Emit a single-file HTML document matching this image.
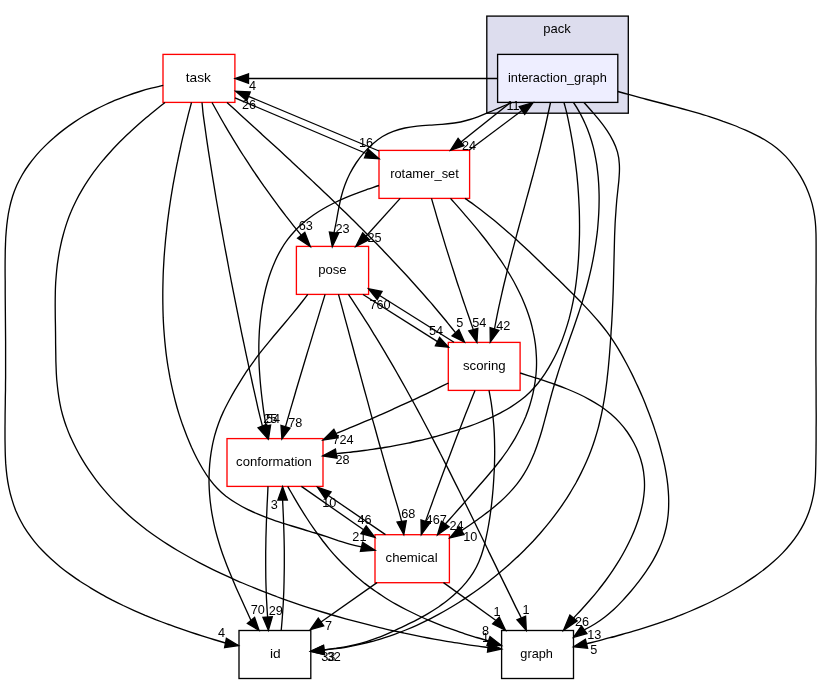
<!DOCTYPE html>
<html lang="en"><head><meta charset="utf-8"><title>pack/interaction_graph</title>
<style>
html,body{margin:0;padding:0;background:#fff;}
svg{display:block;will-change:transform;}
text{font-family:"Liberation Sans","DejaVu Sans",sans-serif;font-size:12.7px;fill:#000;text-anchor:middle;}
.e{fill:none;stroke:#000;stroke-width:1.33;}
.a{fill:#000;stroke:#000;stroke-width:1.33;}
</style></head><body>
<svg width="822" height="684" viewBox="0 0 822 684">
<rect x="0" y="0" width="822" height="684" fill="#ffffff"/>
<g id="cluster_pack"><rect x="486.8" y="16.1" width="141.5" height="97.1" fill="#ddddee" stroke="#000" stroke-width="1.33"/>
<text x="557" y="32.6" textLength="27.5" lengthAdjust="spacingAndGlyphs">pack</text></g>
<g class="node"><rect x="497.6" y="54.4" width="120.2" height="48" fill="#eeeeff" stroke="#000000" stroke-width="1.33"/><text x="557.4" y="82.3" textLength="98.8" lengthAdjust="spacingAndGlyphs">interaction_graph</text></g>
<g class="node"><rect x="163" y="54.4" width="71.9" height="48" fill="#ffffff" stroke="#ff0000" stroke-width="1.33"/><text x="198.4" y="82" textLength="25.2" lengthAdjust="spacingAndGlyphs">task</text></g>
<g class="node"><rect x="379" y="150.4" width="90.6" height="48" fill="#ffffff" stroke="#ff0000" stroke-width="1.33"/><text x="424.5" y="177.9" textLength="68.6" lengthAdjust="spacingAndGlyphs">rotamer_set</text></g>
<g class="node"><rect x="296.4" y="246.4" width="72.2" height="48" fill="#ffffff" stroke="#ff0000" stroke-width="1.33"/><text x="332.4" y="274" textLength="28.5" lengthAdjust="spacingAndGlyphs">pose</text></g>
<g class="node"><rect x="448.3" y="342.4" width="71.8" height="48" fill="#ffffff" stroke="#ff0000" stroke-width="1.33"/><text x="484.3" y="370.1" textLength="42.6" lengthAdjust="spacingAndGlyphs">scoring</text></g>
<g class="node"><rect x="227" y="438.6" width="96" height="47.8" fill="#ffffff" stroke="#ff0000" stroke-width="1.33"/><text x="274" y="465.5" textLength="75.8" lengthAdjust="spacingAndGlyphs">conformation</text></g>
<g class="node"><rect x="375" y="534.7" width="74.4" height="48" fill="#ffffff" stroke="#ff0000" stroke-width="1.33"/><text x="411.6" y="562" textLength="52.1" lengthAdjust="spacingAndGlyphs">chemical</text></g>
<g class="node"><rect x="239" y="630.5" width="71.8" height="48" fill="#ffffff" stroke="#000000" stroke-width="1.33"/><text x="275.4" y="657.9" textLength="10.7" lengthAdjust="spacingAndGlyphs">id</text></g>
<g class="node"><rect x="501.6" y="630.5" width="71.9" height="48" fill="#ffffff" stroke="#000000" stroke-width="1.33"/><text x="536.6" y="657.9" textLength="32.6" lengthAdjust="spacingAndGlyphs">graph</text></g>
<g class="edge"><path class="e" d="M163.2,85.3 C159.2,86.2 155.3,87.2 151.4,88.2 C147.4,89.2 143.5,90.3 139.7,91.5 C135.8,92.7 132,93.9 128.2,95.3 C124.4,96.7 120.6,98.1 116.8,99.6 C113.1,101.1 109.4,102.8 105.7,104.5 C102.1,106.2 98.4,108 94.8,109.9 C91.3,111.8 87.7,113.7 84.2,115.8 C80.7,117.9 77.3,120.1 73.9,122.4 C70.5,124.7 67.1,127.1 63.8,129.6 C60.5,132.1 57.3,134.7 54.2,137.5 C51,140.2 48,143 45.1,145.9 C42.1,148.8 39.3,151.8 36.6,154.9 C34,158 31.4,161.2 29,164.5 C26.6,167.7 24.4,171.1 22.4,174.5 C20.4,178 18.5,181.5 16.9,185.1 C15.3,188.8 13.8,192.5 12.6,196.2 C11.4,200 10.4,203.8 9.6,207.7 C8.7,211.6 8,215.6 7.5,219.6 C6.9,223.5 6.5,227.6 6.2,231.6 C5.8,235.7 5.6,239.8 5.5,243.9 C5.3,248 5.2,252.1 5.2,256.2 C5.1,260.3 5.1,264.5 5.1,268.6 C5.1,272.7 5.1,276.8 5.2,280.8 C5.2,284.9 5.2,289 5.2,293.1 C5.2,297.1 5.3,301.2 5.3,305.3 C5.3,309.3 5.4,313.4 5.4,317.4 C5.4,321.4 5.5,325.5 5.5,329.5 C5.5,333.6 5.6,337.6 5.6,341.6 C5.6,345.7 5.6,349.7 5.6,353.7 C5.6,357.8 5.6,361.8 5.6,365.8 C5.6,369.9 5.6,373.9 5.6,378 C5.5,382 5.5,386 5.5,390.1 C5.4,394.1 5.3,398.2 5.3,402.3 C5.2,406.3 5.2,410.4 5.1,414.5 C5.1,418.5 5.1,422.6 5,426.7 C5,430.8 5,434.8 5,438.9 C5.1,443 5.1,447.1 5.2,451.2 C5.3,455.3 5.5,459.4 5.7,463.4 C6,467.5 6.4,471.6 6.9,475.6 C7.4,479.7 8.1,483.7 8.9,487.6 C9.7,491.6 10.7,495.5 11.9,499.4 C13,503.2 14.3,507 15.8,510.7 C17.4,514.4 19.1,518 21,521.5 C22.8,525 24.9,528.4 27.1,531.7 C29.3,534.9 31.7,538.1 34.3,541.3 C36.8,544.4 39.4,547.4 42.2,550.3 C45,553.2 47.9,556.1 50.9,558.8 C54,561.6 57.1,564.3 60.3,566.9 C63.5,569.5 66.8,572 70.1,574.4 C73.5,576.8 76.9,579.2 80.3,581.5 C83.8,583.7 87.3,585.9 90.9,588.1 C94.4,590.2 98,592.3 101.6,594.3 C105.1,596.3 108.7,598.2 112.3,600.1 C115.9,601.9 119.6,603.7 123.2,605.5 C126.8,607.2 130.5,608.9 134.2,610.6 C137.8,612.2 141.5,613.8 145.2,615.4 C148.9,616.9 152.6,618.4 156.3,619.9 C160.1,621.3 163.8,622.7 167.6,624.1 C171.4,625.5 175.1,626.9 178.9,628.2 C182.7,629.5 186.6,630.8 190.4,632.1 C194.3,633.4 198.1,634.6 202,635.9 C205.9,637.1 209.8,638.3 213.7,639.5 C217.7,640.7 221.5,641.8 225.5,643"/><polygon class="a" points="224.6,647.6 238.5,645.5 226.4,638.4"/><text x="221.5" y="637.1">4</text></g>
<g class="edge"><path class="e" d="M165,102.5 C161.9,104.9 158.7,107.4 155.6,109.9 C152.5,112.4 149.4,114.9 146.4,117.5 C143.3,120.1 140.2,122.8 137.2,125.5 C134.2,128.2 131.2,130.9 128.2,133.7 C125.2,136.5 122.3,139.4 119.4,142.3 C116.6,145.2 113.8,148.1 111,151.2 C108.2,154.2 105.6,157.3 102.9,160.4 C100.3,163.5 97.8,166.7 95.4,169.9 C92.9,173.2 90.6,176.5 88.3,179.8 C86,183.2 83.9,186.6 81.9,190.1 C79.8,193.6 77.9,197.1 76.1,200.7 C74.3,204.3 72.6,207.9 71.1,211.6 C69.5,215.3 68.1,219.1 66.8,222.9 C65.5,226.7 64.4,230.6 63.3,234.5 C62.2,238.3 61.3,242.3 60.5,246.2 C59.6,250.2 58.9,254.1 58.3,258.1 C57.6,262.1 57.1,266.1 56.7,270.2 C56.3,274.2 56,278.2 55.7,282.3 C55.5,286.3 55.3,290.3 55.3,294.3 C55.2,298.4 55.2,302.4 55.2,306.5 C55.2,310.5 55.3,314.5 55.3,318.6 C55.4,322.6 55.5,326.7 55.5,330.7 C55.6,334.8 55.6,338.8 55.6,342.9 C55.7,346.9 55.7,351 55.8,355.1 C55.8,359.1 55.9,363.2 56.1,367.2 C56.2,371.3 56.4,375.3 56.7,379.3 C57.1,383.4 57.5,387.4 58,391.4 C58.5,395.4 59.1,399.3 59.9,403.3 C60.6,407.2 61.5,411.1 62.6,415 C63.7,418.8 64.9,422.7 66.3,426.4 C67.6,430.2 69.1,433.9 70.8,437.6 C72.4,441.3 74.2,444.9 76.1,448.5 C77.9,452.1 79.9,455.6 82,459.1 C84.1,462.6 86.2,466 88.5,469.4 C90.8,472.7 93.2,476.1 95.6,479.3 C98.1,482.6 100.6,485.8 103.2,488.9 C105.8,492 108.5,495.1 111.3,498.1 C114.1,501.1 116.9,504 119.8,506.8 C122.7,509.7 125.7,512.5 128.7,515.2 C131.7,517.9 134.8,520.5 137.9,523 C141,525.6 144.2,528 147.4,530.5 C150.7,532.9 153.9,535.2 157.3,537.5 C160.6,539.8 163.9,542 167.3,544.1 C170.7,546.3 174.1,548.4 177.6,550.5 C181.1,552.5 184.6,554.5 188.1,556.5 C191.6,558.5 195.1,560.4 198.7,562.3 C202.3,564.1 205.9,566 209.5,567.8 C213.1,569.6 216.7,571.3 220.4,573.1 C224,574.8 227.7,576.5 231.4,578.2 C235.1,579.8 238.8,581.5 242.5,583 C246.2,584.6 249.9,586.2 253.7,587.7 C257.4,589.3 261.2,590.8 264.9,592.2 C268.7,593.7 272.5,595.1 276.3,596.5 C280.1,597.9 283.9,599.3 287.7,600.7 C291.5,602 295.4,603.3 299.2,604.6 C303,605.9 306.9,607.2 310.7,608.4 C314.6,609.6 318.5,610.8 322.3,612 C326.2,613.2 330.1,614.3 334,615.5 C337.9,616.6 341.8,617.7 345.7,618.8 C349.6,619.8 353.5,620.9 357.4,621.9 C361.3,623 365.2,624 369.1,624.9 C373,625.9 376.9,626.9 380.8,627.8 C384.8,628.8 388.7,629.7 392.6,630.6 C396.6,631.5 400.5,632.3 404.4,633.2 C408.4,634 412.3,634.8 416.3,635.6 C420.2,636.4 424.2,637.2 428.1,638 C432.1,638.7 436.1,639.5 440.1,640.2 C444,640.9 448,641.6 452,642.2 C456,642.9 460,643.5 464,644.1 C468,644.8 472,645.4 476,645.9 C480,646.5 484,647 488,647.5"/><polygon class="a" points="487.5,652.1 501.5,649 488.5,642.9"/><text x="485.5" y="642.2">1</text></g>
<g class="edge"><path class="e" d="M191.5,102.5 C190.5,106.4 189.4,110.3 188.4,114.2 C187.4,118.1 186.5,122 185.5,125.9 C184.6,129.8 183.6,133.8 182.7,137.7 C181.8,141.6 180.9,145.6 180.1,149.5 C179.2,153.4 178.4,157.4 177.6,161.4 C176.7,165.3 176,169.3 175.2,173.3 C174.5,177.2 173.7,181.2 173,185.2 C172.3,189.2 171.7,193.2 171,197.2 C170.4,201.2 169.8,205.2 169.2,209.2 C168.7,213.2 168.1,217.2 167.6,221.2 C167.1,225.2 166.7,229.2 166.3,233.2 C165.8,237.2 165.4,241.3 165.1,245.3 C164.7,249.3 164.4,253.3 164.1,257.4 C163.9,261.4 163.6,265.4 163.4,269.5 C163.2,273.5 163.1,277.5 163,281.6 C162.9,285.6 162.8,289.7 162.8,293.7 C162.8,297.7 162.8,301.8 162.9,305.8 C162.9,309.8 163.1,313.9 163.2,317.9 C163.4,321.9 163.6,326 163.9,330 C164.2,334 164.5,338 164.9,342.1 C165.3,346.1 165.7,350.1 166.2,354.1 C166.7,358.1 167.3,362 167.9,366 C168.6,370 169.3,374 170,377.9 C170.8,381.9 171.6,385.8 172.5,389.7 C173.4,393.7 174.4,397.6 175.4,401.5 C176.4,405.3 177.5,409.2 178.7,413.1 C179.9,416.9 181.2,420.8 182.5,424.6 C183.9,428.4 185.3,432.2 186.8,436 C188.3,439.7 189.9,443.5 191.5,447.2 C193.2,450.9 195,454.7 196.8,458.3 C198.7,462 200.7,465.5 202.8,469 C204.9,472.5 207.1,475.9 209.5,479.1 C211.9,482.3 214.4,485.4 217.2,488.3 C219.9,491.2 222.9,493.8 226,496.3 C229.2,498.7 232.5,501 236,503 C239.4,505.1 242.9,507.1 246.5,508.9 C250.1,510.7 253.8,512.3 257.5,513.9 C261.2,515.5 265,517 268.8,518.3 C272.6,519.7 276.4,521.1 280.3,522.3 C284.1,523.6 288,524.8 291.9,526 C295.8,527.2 299.7,528.3 303.6,529.5 C307.5,530.7 311.4,531.8 315.2,533 C319.1,534.2 322.9,535.4 326.7,536.7 C330.5,538 334.3,539.3 338.1,540.6 C341.9,541.8 345.7,543.1 349.6,544.2 C353.5,545.3 357.5,546.2 361.5,546.9"/><polygon class="a" points="360.4,551.4 375,550.3 362.6,542.4"/><text x="359.4" y="540.5">21</text></g>
<g class="edge"><path class="e" d="M202,102.5 C202.5,106.5 202.7,110.6 203.2,114.6 C203.8,118.7 204.3,122.7 204.9,126.7 C205.5,130.7 206,134.8 206.6,138.8 C207.2,142.8 207.8,146.8 208.4,150.8 C209,154.8 209.7,158.9 210.3,162.9 C210.9,166.9 211.6,170.9 212.2,174.9 C212.9,178.9 213.5,182.9 214.2,186.9 C214.9,191 215.5,195 216.2,199 C216.9,203 217.6,207 218.3,211 C219,215 219.7,219 220.4,223 C221.2,227 221.9,231 222.6,235 C223.3,239 224.1,243 224.8,247 C225.6,251 226.3,255 227.1,259 C227.8,263 228.6,267 229.3,271 C230.1,275 230.9,279 231.6,283 C232.4,286.9 233.2,290.9 234,294.9 C234.8,298.9 235.6,302.9 236.4,306.9 C237.2,310.9 238,314.9 238.8,318.8 C239.6,322.8 240.4,326.8 241.2,330.8 C242,334.8 242.9,338.8 243.7,342.7 C244.5,346.7 245.4,350.7 246.2,354.7 C247.1,358.6 247.9,362.6 248.8,366.6 C249.6,370.6 250.5,374.5 251.4,378.5 C252.2,382.5 253.1,386.4 254,390.4 C254.9,394.4 255.8,398.3 256.7,402.3 C257.5,406.3 258.4,410.2 259.4,414.2 C260.3,418.1 261.5,422 262.4,426"/><polygon class="a" points="258.1,427.8 267.7,438.6 266.7,424.2"/><text x="270.3" y="423.4">25</text></g>
<g class="edge"><path class="e" d="M212,102.5 C214,106.1 216,109.7 218,113.3 C220,116.9 222,120.5 224.1,124 C226.2,127.6 228.2,131.1 230.4,134.6 C232.5,138.1 234.6,141.6 236.8,145.1 C238.9,148.6 241.1,152.1 243.3,155.5 C245.6,159 247.8,162.4 250.1,165.8 C252.3,169.3 254.6,172.7 256.9,176 C259.2,179.4 261.6,182.8 263.9,186.2 C266.3,189.5 268.7,192.8 271.1,196.2 C273.5,199.5 275.9,202.8 278.4,206.1 C280.9,209.4 283.3,212.6 285.8,215.9 C288.4,219.1 290.9,222.4 293.4,225.6 C296,228.8 298.6,232 301.2,235.2"/><polygon class="a" points="297.6,238.1 310.3,246.5 304.8,232.3"/><text x="305.8" y="229.9">63</text></g>
<g class="edge"><path class="e" d="M227,102.5 C230,105.2 232.9,107.9 235.9,110.6 C238.9,113.3 241.8,116 244.8,118.7 C247.7,121.4 250.7,124.1 253.6,126.8 C256.6,129.5 259.6,132.2 262.5,134.9 C265.5,137.6 268.4,140.3 271.4,143 C274.4,145.7 277.3,148.4 280.3,151.1 C283.2,153.8 286.2,156.6 289.1,159.3 C292,162 295,164.7 297.9,167.5 C300.9,170.2 303.8,172.9 306.7,175.7 C309.7,178.4 312.6,181.2 315.5,183.9 C318.4,186.7 321.3,189.4 324.2,192.2 C327.1,195 330,197.7 332.9,200.5 C335.8,203.3 338.7,206.1 341.6,208.9 C344.5,211.7 347.3,214.5 350.2,217.3 C353,220.1 355.9,222.9 358.7,225.8 C361.6,228.6 364.4,231.4 367.2,234.3 C370.1,237.1 372.9,240 375.7,242.8 C378.5,245.7 381.3,248.6 384,251.5 C386.8,254.4 389.6,257.3 392.3,260.2 C395.1,263.1 397.8,266 400.5,269 C403.3,271.9 406,274.8 408.7,277.8 C411.4,280.8 414.1,283.7 416.7,286.7 C419.4,289.7 422.1,292.7 424.7,295.7 C427.3,298.8 430,301.8 432.6,304.8 C435.2,307.9 437.8,310.9 440.3,314 C442.9,317.1 445.5,320.2 448,323.3 C450.5,326.4 453,329.6 455.5,332.7"/><polygon class="a" points="452.1,335.9 464.5,342 458.9,329.5"/><text x="459.7" y="327.4">5</text></g>
<g class="edge"><path class="e" d="M235,97.8 L366.3,153.5"/><polygon class="a" points="364.5,157.8 379,158.7 368.1,149.2"/><text x="366" y="146.6">16</text></g>
<g class="edge"><path class="e" d="M379,151 L248.5,96.3"/><polygon class="a" points="250.2,92 235.7,91.3 246.8,100.6"/><text x="249" y="109.1">26</text></g>
<g class="edge"><path class="e" d="M497.8,78.5 L248.5,78.5"/><polygon class="a" points="248.5,73.8 235.2,78.5 248.5,83.2"/><text x="252.5" y="89.7">4</text></g>
<g class="edge"><path class="e" d="M510.5,102.5 L461,142"/><polygon class="a" points="458.1,138.3 450.5,150.2 463.9,145.7"/><text x="469" y="149.6">24</text></g>
<g class="edge"><path class="e" d="M469,150.2 L522,110.5"/><polygon class="a" points="524.7,114.3 533,102.6 519.3,106.7"/><text x="513" y="110.1">11</text></g>
<g class="edge"><path class="e" d="M512,102.6 C508.1,104.1 504.3,105.6 500.5,107.3 C496.7,108.9 493,110.6 489.2,112.2 C485.5,113.8 481.7,115.4 477.9,116.8 C474.1,118.2 470.2,119.5 466.3,120.5 C462.4,121.6 458.4,122.4 454.4,123 C450.3,123.6 446.2,124.1 442,124.4 C437.8,124.7 433.7,125 429.5,125.2 C425.3,125.5 421.2,125.8 417.1,126.2 C412.9,126.7 408.9,127.2 404.9,128 C401,128.8 397.1,129.9 393.3,131.3 C389.6,132.6 386,134.4 382.5,136.5 C379,138.7 375.7,141.2 372.6,143.9 C369.5,146.7 366.5,149.7 363.8,152.9 C361,156.1 358.5,159.5 356.1,163 C353.8,166.5 351.7,170.1 349.8,173.7 C347.9,177.4 346.3,181.1 344.9,184.9 C343.5,188.6 342.3,192.5 341.3,196.5 C340.3,200.4 339.5,204.4 338.7,208.4 C337.9,212.4 337.2,216.5 336.5,220.5 C335.7,224.6 334.9,228.7 334,232.7"/><polygon class="a" points="329.4,232.1 332.3,246.6 338.6,233.3"/><text x="342.5" y="233.1">23</text></g>
<g class="edge"><path class="e" d="M550.5,102.5 C549.7,106.5 548.8,110.5 547.9,114.5 C547.1,118.5 546.2,122.5 545.3,126.5 C544.3,130.5 543.4,134.5 542.4,138.5 C541.4,142.4 540.5,146.4 539.5,150.4 C538.5,154.4 537.4,158.3 536.4,162.3 C535.4,166.2 534.3,170.2 533.3,174.2 C532.2,178.1 531.1,182.1 530.1,186 C529,190 527.9,193.9 526.8,197.9 C525.7,201.8 524.7,205.8 523.6,209.7 C522.5,213.7 521.4,217.6 520.3,221.6 C519.2,225.5 518.2,229.5 517.1,233.4 C516,237.4 515,241.3 513.9,245.3 C512.9,249.2 511.8,253.2 510.8,257.1 C509.7,261.1 508.7,265.1 507.7,269 C506.7,273 505.8,277 504.8,281 C503.8,284.9 502.9,288.9 502,292.9 C501.1,296.9 500.2,300.9 499.3,304.9 C498.4,308.9 497.6,312.9 496.8,316.9 C496,320.9 495.2,325 494.5,329"/><polygon class="a" points="490.1,327.6 490.3,342 498.9,330.4"/><text x="503.3" y="330.1">42</text></g>
<g class="edge"><path class="e" d="M564,102.5 C565,106.4 566.2,110.3 567,114.2 C567.9,118.2 568.7,122.1 569.5,126.1 C570.3,130 571,134 571.7,137.9 C572.4,141.9 573.1,145.9 573.7,149.9 C574.3,153.9 574.8,157.9 575.3,161.9 C575.9,165.9 576.3,169.9 576.8,173.9 C577.2,177.9 577.5,181.9 577.9,185.9 C578.2,189.9 578.5,194 578.7,198 C578.9,202 579.1,206.1 579.3,210.1 C579.4,214.1 579.5,218.2 579.5,222.2 C579.6,226.3 579.5,230.3 579.5,234.3 C579.4,238.4 579.3,242.4 579.1,246.5 C579,250.5 578.7,254.6 578.5,258.6 C578.2,262.6 577.9,266.7 577.5,270.7 C577.1,274.8 576.6,278.8 576.1,282.8 C575.6,286.8 575,290.8 574.3,294.8 C573.6,298.8 572.9,302.7 572,306.7 C571.2,310.6 570.2,314.5 569.2,318.4 C568.1,322.3 567,326.1 565.7,329.9 C564.5,333.7 563.1,337.5 561.7,341.3 C560.2,345 558.6,348.7 556.9,352.3 C555.2,356 553.3,359.6 551.3,363.1 C549.4,366.7 547.2,370.2 545,373.6 C542.7,377 540.3,380.3 537.8,383.5 C535.2,386.6 532.5,389.6 529.6,392.4 C526.7,395.3 523.7,397.9 520.5,400.3 C517.3,402.7 514,405 510.6,407.1 C507.2,409.3 503.6,411.2 500.1,413.1 C496.5,415 492.8,416.7 489.1,418.4 C485.4,420 481.7,421.5 477.9,423 C474.1,424.5 470.3,425.8 466.5,427.2 C462.6,428.5 458.8,429.7 454.9,430.9 C451,432.1 447.1,433.3 443.3,434.4 C439.4,435.5 435.5,436.6 431.6,437.6 C427.7,438.6 423.8,439.6 419.8,440.5 C415.9,441.4 412,442.3 408,443.1 C404.1,443.9 400.1,444.7 396.2,445.4 C392.2,446.2 388.3,446.9 384.3,447.5 C380.3,448.2 376.3,448.8 372.3,449.4 C368.3,450 364.3,450.5 360.3,451 C356.3,451.5 352.3,452 348.3,452.4 C344.3,452.8 340.2,453.2 336.2,453.6"/><polygon class="a" points="335.4,449 322.7,455.9 337,458.2"/><text x="342.5" y="464.3">28</text></g>
<g class="edge"><path class="e" d="M573.5,102.5 C575.9,106 578,109.5 580,113.1 C581.9,116.7 583.7,120.3 585.3,124 C587,127.7 588.4,131.5 589.7,135.3 C591,139.1 592.2,143 593.2,146.9 C594.2,150.7 595,154.7 595.7,158.6 C596.5,162.6 597.1,166.6 597.5,170.6 C598,174.6 598.4,178.6 598.6,182.6 C598.9,186.7 599,190.7 599.1,194.8 C599.2,198.8 599.1,202.9 599,206.9 C598.9,211 598.7,215 598.4,219 C598.1,223.1 597.8,227.1 597.4,231.2 C596.9,235.2 596.4,239.2 595.8,243.2 C595.2,247.3 594.6,251.3 593.8,255.3 C593.1,259.3 592.3,263.2 591.5,267.2 C590.6,271.2 589.7,275.1 588.7,279 C587.7,283 586.7,286.9 585.6,290.8 C584.5,294.6 583.3,298.5 582.1,302.4 C580.9,306.2 579.7,310 578.4,313.8 C577.1,317.7 575.8,321.5 574.5,325.3 C573.2,329.1 571.9,332.8 570.5,336.6 C569.2,340.4 567.8,344.2 566.5,348 C565.2,351.8 563.8,355.6 562.5,359.4 C561.2,363.2 559.9,367.1 558.6,370.9 C557.4,374.8 556.2,378.6 555,382.5 C553.8,386.4 552.7,390.3 551.6,394.2 C550.5,398.1 549.5,402.1 548.4,406 C547.4,410 546.4,414 545.3,417.9 C544.3,421.8 543.2,425.8 542.1,429.7 C541,433.6 539.8,437.4 538.5,441.3 C537.3,445.1 535.9,448.9 534.5,452.6 C533,456.3 531.4,459.9 529.7,463.5 C528,467 526.1,470.5 524,473.9 C522,477.3 519.7,480.6 517.3,483.7 C514.8,486.9 512.1,490 509.3,492.9 C506.5,495.9 503.6,498.7 500.5,501.5 C497.4,504.2 494.3,506.9 491,509.5 C487.8,512 484.5,514.5 481.2,517 C477.9,519.4 474.6,521.7 471.3,524 C468,526.3 464.7,528.5 461.5,530.6"/><polygon class="a" points="459,526.6 449.7,538 464,534.6"/><text x="470.3" y="540.6">10</text></g>
<g class="edge"><path class="e" d="M584,102.5 C586.5,105.3 589.1,108.2 591.8,111.3 C594.4,114.3 597.1,117.4 599.7,120.6 C602.3,123.8 604.8,127.2 607.1,130.6 C609.4,134 611.4,137.5 613.2,141.1 C615,144.7 616.5,148.4 617.5,152.2 C618.5,155.9 619.1,159.8 619.3,163.7 C619.6,167.6 619.5,171.6 619.2,175.6 C619,179.6 618.6,183.6 618.1,187.7 C617.7,191.7 617.2,195.7 616.8,199.7 C616.5,203.7 616.1,207.7 615.9,211.7 C615.6,215.7 615.3,219.7 615.1,223.7 C614.9,227.7 614.8,231.8 614.6,235.8 C614.5,239.8 614.4,243.8 614.3,247.9 C614.2,251.9 614.1,255.9 614,259.9 C613.9,264 613.8,268 613.7,272 C613.6,276 613.5,280.1 613.4,284.1 C613.3,288.1 613.2,292.1 613,296.1 C612.9,300 612.7,304 612.5,308 C612.3,312 612.1,315.9 611.9,319.9 C611.7,323.9 611.4,327.9 611.1,331.8 C610.9,335.8 610.6,339.8 610.3,343.8 C610,347.8 609.7,351.8 609.4,355.9 C609,359.9 608.7,363.9 608.3,368 C607.9,372 607.4,376 607,380.1 C606.5,384.1 606,388.1 605.4,392.1 C604.8,396.2 604.2,400.2 603.4,404.1 C602.7,408.1 602,412.1 601.1,416 C600.2,419.9 599.3,423.8 598.3,427.7 C597.3,431.6 596.1,435.4 594.9,439.2 C593.7,443 592.4,446.8 591,450.5 C589.6,454.3 588.1,457.9 586.5,461.6 C584.9,465.2 583.2,468.8 581.4,472.4 C579.7,476 577.8,479.5 575.9,483 C573.9,486.4 571.9,489.9 569.8,493.3 C567.8,496.7 565.6,500 563.3,503.3 C561.1,506.7 558.8,509.9 556.4,513.2 C554,516.4 551.6,519.6 549.1,522.7 C546.6,525.8 544,528.9 541.3,532 C538.7,535 536,538 533.3,541 C530.5,543.9 527.7,546.8 524.8,549.7 C522,552.5 519.1,555.4 516.1,558.1 C513.2,560.9 510.2,563.6 507.1,566.3 C504.1,568.9 501,571.6 497.9,574.1 C494.8,576.7 491.6,579.2 488.4,581.7 C485.2,584.2 482,586.6 478.7,589 C475.5,591.3 472.2,593.6 468.8,595.9 C465.5,598.2 462.2,600.4 458.8,602.5 C455.4,604.7 452,606.7 448.5,608.8 C445.1,610.8 441.6,612.8 438.1,614.7 C434.6,616.6 431,618.4 427.5,620.2 C423.9,622 420.3,623.7 416.7,625.3 C413,627 409.4,628.5 405.7,630 C402,631.5 398.2,633 394.5,634.3 C390.7,635.7 387,636.9 383.2,638.1 C379.3,639.3 375.5,640.5 371.6,641.5 C367.8,642.6 363.9,643.5 359.9,644.4 C356,645.3 352.1,646.1 348.1,646.8 C344.1,647.5 340.1,648.2 336.1,648.7 C332,649.2 328.1,649.6 324,650"/><polygon class="a" points="323.5,645.4 310.7,651.3 324.5,654.6"/><text x="333.8" y="661.1">32</text></g>
<g class="edge"><path class="e" d="M617.8,91.5 C621.6,92.6 625.5,93.7 629.4,94.7 C633.2,95.8 637.1,96.9 641,97.9 C644.9,98.9 648.8,100 652.8,101 C656.7,102 660.6,103 664.6,104 C668.5,105.1 672.4,106.1 676.4,107.1 C680.3,108.2 684.3,109.3 688.2,110.4 C692.1,111.5 696,112.6 699.9,113.7 C703.8,114.9 707.7,116.1 711.6,117.4 C715.4,118.6 719.3,119.9 723.1,121.3 C726.9,122.6 730.7,124 734.5,125.5 C738.2,127 741.9,128.6 745.6,130.2 C749.3,131.9 752.9,133.6 756.5,135.4 C760.1,137.2 763.6,139.2 767,141.3 C770.5,143.4 773.7,145.7 776.9,148.2 C780,150.7 782.9,153.5 785.7,156.4 C788.5,159.4 791.1,162.5 793.5,165.8 C796,169 798.2,172.4 800.3,175.9 C802.4,179.4 804.3,183.1 806,186.8 C807.6,190.5 809.1,194.2 810.4,198.1 C811.7,201.9 812.7,205.8 813.5,209.8 C814.3,213.7 814.9,217.7 815.3,221.7 C815.7,225.7 815.9,229.7 816,233.8 C816.1,237.8 816.1,241.9 816.1,245.9 C816.1,250 816.1,254 816.1,258.1 C816.1,262.1 816.1,266.2 816.1,270.3 C816.1,274.3 816.1,278.4 816.1,282.4 C816,286.5 816,290.5 816,294.6 C816,298.6 816,302.6 816,306.7 C815.9,310.7 815.9,314.8 815.9,318.8 C815.9,322.9 815.9,326.9 815.9,331 C815.9,335 815.9,339.1 815.9,343.1 C815.9,347.1 815.9,351.2 815.9,355.2 C815.9,359.3 815.9,363.3 816,367.4 C816,371.4 816,375.5 816,379.5 C816,383.5 816.1,387.6 816.1,391.6 C816.1,395.7 816.1,399.7 816.1,403.8 C816.1,407.8 816.2,411.9 816.2,415.9 C816.2,420 816.2,424 816.1,428.1 C816.1,432.1 816.1,436.2 816.1,440.2 C816.1,444.3 816,448.3 816,452.4 C815.9,456.4 815.8,460.5 815.8,464.5 C815.7,468.6 815.6,472.6 815.4,476.7 C815.2,480.7 814.9,484.8 814.4,488.8 C813.9,492.8 813.2,496.8 812.2,500.7 C811.3,504.7 810.1,508.6 808.7,512.4 C807.3,516.2 805.7,519.9 803.9,523.6 C802.1,527.2 800,530.7 797.8,534.1 C795.6,537.4 793.3,540.7 790.7,543.8 C788.2,546.9 785.5,550 782.7,552.9 C779.9,555.8 777,558.6 773.9,561.3 C770.9,564 767.8,566.6 764.5,569.1 C761.3,571.6 758,574 754.7,576.4 C751.3,578.7 747.9,581 744.5,583.2 C741,585.4 737.6,587.5 734.1,589.5 C730.6,591.6 727,593.6 723.5,595.5 C719.9,597.4 716.3,599.2 712.7,601 C709,602.8 705.4,604.5 701.7,606.2 C698,607.9 694.3,609.5 690.6,611 C686.9,612.6 683.1,614.1 679.4,615.6 C675.6,617 671.8,618.5 668,619.8 C664.2,621.2 660.4,622.5 656.6,623.8 C652.7,625.1 648.9,626.4 645,627.6 C641.2,628.8 637.3,630 633.4,631.1 C629.5,632.3 625.6,633.4 621.7,634.5 C617.8,635.6 613.9,636.7 610,637.7 C606.1,638.8 602.2,639.8 598.3,640.8 C594.3,641.9 590.4,642.8 586.5,643.8"/><polygon class="a" points="585.4,639.3 573.6,646.8 587.6,648.3"/><text x="593.7" y="654.1">5</text></g>
<g class="edge"><path class="e" d="M400.2,198.4 L366,236.2"/><polygon class="a" points="362.7,232.9 355.8,246.5 369.3,239.5"/><text x="374.5" y="241.6">25</text></g>
<g class="edge"><path class="e" d="M379,185.5 C375.3,186.6 371.6,188 367.8,189.2 C364.1,190.5 360.3,191.8 356.5,193.3 C352.7,194.7 348.9,196.2 345.1,197.8 C341.4,199.4 337.7,201.1 334,203 C330.4,204.8 326.8,206.7 323.3,208.8 C319.8,210.8 316.4,213 313.1,215.3 C309.8,217.6 306.7,220 303.6,222.6 C300.6,225.1 297.7,227.8 295,230.7 C292.3,233.6 289.8,236.6 287.5,239.7 C285.1,242.9 283,246.2 281,249.6 C279,253 277.2,256.5 275.5,260.2 C273.9,263.8 272.4,267.5 271,271.3 C269.6,275 268.4,278.9 267.3,282.8 C266.2,286.6 265.2,290.6 264.4,294.5 C263.5,298.4 262.8,302.4 262.1,306.3 C261.5,310.3 260.9,314.3 260.5,318.3 C260,322.3 259.7,326.3 259.4,330.3 C259.2,334.3 259,338.3 258.9,342.3 C258.8,346.3 258.8,350.4 258.9,354.4 C258.9,358.4 259,362.4 259.2,366.4 C259.4,370.5 259.7,374.5 260,378.5 C260.3,382.5 260.7,386.5 261.1,390.5 C261.5,394.4 262,398.4 262.5,402.4 C263,406.3 263.5,410.3 264.1,414.2 C264.7,418.1 265.4,422.1 266,426"/><polygon class="a" points="261.4,426.9 268.5,438.6 270.6,425.1"/><text x="273" y="423.4">54</text></g>
<g class="edge"><path class="e" d="M431.5,198.4 C432.6,202.4 433.8,206.4 435,210.4 C436.1,214.4 437.3,218.5 438.5,222.5 C439.7,226.5 440.9,230.5 442.1,234.4 C443.3,238.4 444.5,242.4 445.7,246.4 C447,250.4 448.2,254.4 449.5,258.4 C450.7,262.3 452,266.3 453.3,270.3 C454.6,274.3 455.8,278.2 457.1,282.2 C458.4,286.2 459.8,290.1 461.1,294.1 C462.4,298 463.7,302 465.1,305.9 C466.4,309.9 467.8,313.8 469.2,317.8 C470.5,321.7 471.9,325.7 473.3,329.6"/><polygon class="a" points="468.8,330.9 476.9,342.3 477.8,328.3"/><text x="479.3" y="326.6">54</text></g>
<g class="edge"><path class="e" d="M450.5,198.4 C453.1,201.4 455.9,204.4 458.5,207.4 C461.2,210.4 463.8,213.5 466.5,216.6 C469.2,219.7 471.8,222.8 474.4,225.9 C477.1,229.1 479.7,232.3 482.2,235.5 C484.8,238.7 487.4,242 489.8,245.3 C492.3,248.6 494.8,251.9 497.2,255.3 C499.5,258.7 501.9,262.1 504.1,265.5 C506.3,269 508.5,272.5 510.6,276 C512.7,279.5 514.7,283.1 516.5,286.7 C518.4,290.4 520.2,294 521.9,297.7 C523.5,301.4 525.1,305.2 526.5,309 C527.9,312.8 529.2,316.6 530.4,320.5 C531.5,324.4 532.5,328.4 533.3,332.4 C534.2,336.4 534.9,340.4 535.4,344.4 C535.9,348.5 536.2,352.6 536.4,356.7 C536.6,360.8 536.6,364.9 536.4,369 C536.2,373.1 535.8,377.2 535.2,381.2 C534.6,385.3 533.9,389.4 533,393.4 C532.1,397.4 531,401.3 529.8,405.2 C528.6,409.1 527.2,412.9 525.7,416.7 C524.1,420.5 522.5,424.2 520.6,427.8 C518.8,431.5 516.9,435.1 514.9,438.6 C512.8,442.1 510.6,445.6 508.4,449 C506.1,452.4 503.7,455.7 501.3,459 C498.8,462.2 496.3,465.4 493.7,468.6 C491.1,471.7 488.5,474.9 485.8,478 C483.1,481.1 480.4,484.2 477.7,487.2 C475,490.3 472.3,493.4 469.7,496.5 C467,499.6 464.3,502.6 461.6,505.7 C458.9,508.8 456.2,511.8 453.5,514.9 C450.8,517.9 448,521 445.3,524"/><polygon class="a" points="441.5,521.3 437.5,534.8 449.1,526.7"/><text x="456.5" y="530.1">24</text></g>
<g class="edge"><path class="e" d="M465,198.4 C468.4,200.7 471.7,203.1 475,205.5 C478.3,207.9 481.6,210.4 484.8,212.9 C488,215.4 491.2,218 494.4,220.5 C497.5,223.1 500.6,225.8 503.7,228.4 C506.8,231.1 509.8,233.8 512.9,236.5 C515.9,239.2 518.9,241.9 521.9,244.7 C524.9,247.4 527.8,250.2 530.8,253 C533.7,255.8 536.7,258.7 539.6,261.5 C542.6,264.3 545.5,267.2 548.4,270 C551.3,272.9 554.2,275.7 557.2,278.6 C560.1,281.5 563,284.3 566,287.2 C568.9,290.1 571.8,292.9 574.7,295.8 C577.6,298.7 580.5,301.7 583.3,304.6 C586.2,307.6 589,310.5 591.7,313.6 C594.4,316.6 597.1,319.7 599.7,322.8 C602.3,326 604.8,329.1 607.3,332.4 C609.7,335.7 612,339 614.2,342.4 C616.4,345.8 618.6,349.3 620.6,352.8 C622.7,356.4 624.6,359.9 626.5,363.5 C628.4,367.1 630.3,370.8 632.1,374.4 C633.9,378.1 635.6,381.8 637.3,385.4 C639,389.1 640.7,392.8 642.3,396.6 C643.9,400.3 645.4,404.1 646.9,407.9 C648.4,411.6 649.9,415.5 651.2,419.3 C652.6,423.1 654,427 655.2,430.9 C656.5,434.8 657.7,438.7 658.9,442.7 C660,446.6 661.1,450.6 662.1,454.6 C663.1,458.7 664.1,462.7 664.9,466.7 C665.7,470.8 666.4,474.8 667,478.9 C667.6,483 668,487 668.3,491.1 C668.6,495.1 668.8,499.2 668.7,503.2 C668.7,507.2 668.5,511.2 668.1,515.2 C667.7,519.2 667.1,523.1 666.3,527 C665.4,530.9 664.4,534.8 663.1,538.6 C661.8,542.4 660.2,546.2 658.5,549.9 C656.8,553.6 654.8,557.3 652.8,560.9 C650.7,564.5 648.4,568 646.1,571.4 C643.7,574.9 641.2,578.3 638.7,581.6 C636.1,584.9 633.5,588.1 630.9,591.3 C628.2,594.4 625.5,597.5 622.8,600.4 C620,603.4 617.2,606.3 614.3,609 C611.3,611.7 608.3,614.3 605.2,616.8 C602,619.3 598.7,621.6 595.2,623.8 C591.8,626 588,628 584.2,629.8"/><polygon class="a" points="581.5,626 573.5,637.3 586.9,633.6"/><text x="594.2" y="638.8">13</text></g>
<g class="edge"><path class="e" d="M363,294.5 L437.5,341.6"/><polygon class="a" points="435.4,345.8 448.5,347.2 439.6,337.4"/><text x="436" y="334.9">54</text></g>
<g class="edge"><path class="e" d="M454,342.3 L379.6,295.5"/><polygon class="a" points="382,291.5 368.5,288.7 377.2,299.5"/><text x="380" y="309.4">760</text></g>
<g class="edge"><path class="e" d="M325.1,294.4 C323.9,298.4 322.7,302.4 321.4,306.4 C320.2,310.4 319,314.4 317.8,318.4 C316.6,322.4 315.3,326.4 314.1,330.4 C312.9,334.4 311.7,338.4 310.5,342.4 C309.3,346.4 308,350.4 306.8,354.5 C305.6,358.5 304.4,362.5 303.2,366.5 C302,370.5 300.8,374.5 299.6,378.5 C298.4,382.5 297.2,386.5 296,390.5 C294.9,394.6 293.7,398.6 292.5,402.6 C291.3,406.6 290.1,410.6 289,414.6 C287.8,418.7 286.7,422.7 285.5,426.7"/><polygon class="a" points="281,425.4 281.9,438.8 290,428"/><text x="295.2" y="427.2">78</text></g>
<g class="edge"><path class="e" d="M307.8,294.4 C305.4,297.7 302.9,300.8 300.4,304 C297.9,307.2 295.4,310.3 292.8,313.4 C290.2,316.6 287.6,319.7 285,322.7 C282.4,325.8 279.8,328.9 277.2,332 C274.5,335.1 271.9,338.2 269.4,341.3 C266.8,344.4 264.3,347.5 261.8,350.7 C259.3,353.8 256.8,357 254.5,360.3 C252.1,363.5 249.8,366.8 247.5,370.2 C245.3,373.5 243.1,376.9 240.9,380.3 C238.8,383.7 236.7,387.1 234.6,390.6 C232.6,394.1 230.6,397.7 228.7,401.2 C226.8,404.8 224.9,408.4 223.2,412.1 C221.5,415.7 220,419.4 218.6,423.2 C217.2,427 216,430.8 214.9,434.7 C213.9,438.6 212.9,442.5 212.2,446.4 C211.4,450.4 210.8,454.3 210.3,458.3 C209.8,462.3 209.5,466.4 209.3,470.4 C209.1,474.4 209,478.5 209,482.5 C209.1,486.6 209.3,490.6 209.6,494.7 C209.9,498.7 210.3,502.7 210.9,506.7 C211.4,510.8 212.1,514.8 212.9,518.7 C213.6,522.7 214.5,526.6 215.5,530.5 C216.5,534.4 217.6,538.3 218.8,542.2 C219.9,546 221.2,549.9 222.5,553.7 C223.9,557.5 225.3,561.3 226.7,565 C228.2,568.8 229.7,572.5 231.3,576.3 C232.8,580 234.4,583.7 236,587.4 C237.7,591.1 239.3,594.8 241,598.5 C242.7,602.1 244.3,605.8 246,609.5 C247.7,613.1 249.3,616.8 251,620.5"/><polygon class="a" points="247.4,623.5 259,630.3 254.6,617.5"/><text x="257.7" y="613.6">70</text></g>
<g class="edge"><path class="e" d="M338.5,294.4 C339.6,298.4 340.7,302.4 341.8,306.4 C342.9,310.4 343.9,314.3 345,318.3 C346.1,322.3 347.2,326.3 348.3,330.3 C349.3,334.3 350.4,338.3 351.5,342.3 C352.6,346.3 353.7,350.3 354.7,354.3 C355.8,358.2 356.9,362.2 358,366.2 C359.1,370.2 360.1,374.2 361.2,378.2 C362.3,382.2 363.4,386.2 364.5,390.2 C365.6,394.2 366.7,398.1 367.8,402.1 C368.9,406.1 369.9,410.1 371,414.1 C372.1,418.1 373.3,422.1 374.4,426 C375.5,430 376.6,434 377.7,438 C378.8,442 379.9,446 381.1,449.9 C382.2,453.9 383.3,457.9 384.5,461.9 C385.6,465.8 386.7,469.8 387.9,473.8 C389,477.7 390.2,481.7 391.4,485.7 C392.5,489.6 393.7,493.6 394.9,497.6 C396.1,501.5 397.3,505.5 398.4,509.4 C399.6,513.4 400.5,517.4 401.7,521.4"/><polygon class="a" points="397.1,522.1 403.8,534.6 406.3,520.7"/><text x="408.3" y="517.6">68</text></g>
<g class="edge"><path class="e" d="M348.5,294.4 C350.8,297.8 353,301.2 355.2,304.6 C357.5,308.1 359.7,311.5 361.9,314.9 C364.1,318.3 366.3,321.8 368.5,325.2 C370.6,328.7 372.8,332.2 374.9,335.6 C377.1,339.1 379.2,342.6 381.3,346.1 C383.4,349.6 385.5,353.1 387.5,356.6 C389.6,360.1 391.7,363.7 393.7,367.2 C395.7,370.7 397.8,374.3 399.8,377.8 C401.8,381.3 403.8,384.9 405.8,388.5 C407.7,392 409.7,395.6 411.7,399.2 C413.6,402.7 415.6,406.3 417.5,409.9 C419.4,413.5 421.4,417.1 423.3,420.7 C425.2,424.3 427.1,427.9 429,431.5 C430.9,435.1 432.8,438.8 434.6,442.4 C436.5,446 438.4,449.6 440.2,453.3 C442.1,456.9 443.9,460.5 445.8,464.2 C447.6,467.8 449.5,471.5 451.3,475.1 C453.1,478.8 454.9,482.4 456.8,486.1 C458.6,489.7 460.4,493.4 462.2,497 C464,500.7 465.8,504.4 467.6,508 C469.4,511.7 471.2,515.4 473,519 C474.8,522.7 476.6,526.4 478.3,530 C480.1,533.7 481.9,537.4 483.7,541 C485.5,544.7 487.3,548.4 489,552.1 C490.8,555.7 492.6,559.4 494.4,563.1 C496.2,566.7 497.9,570.4 499.7,574.1 C501.5,577.7 503.3,581.4 505.1,585.1 C506.9,588.7 508.7,592.4 510.5,596.1 C512.2,599.7 514,603.4 515.8,607.1 C517.6,610.7 519.5,614.3 521.3,618"/><polygon class="a" points="517,619.8 526.3,630.3 525.6,616.2"/><text x="526" y="613.6">1</text></g>
<g class="edge"><path class="e" d="M448.5,383 C444.8,384.8 441.1,386.6 437.4,388.4 C433.7,390.2 430,392 426.3,393.8 C422.6,395.6 418.9,397.3 415.2,399.1 C411.4,400.8 407.7,402.5 404,404.2 C400.2,406 396.5,407.6 392.7,409.3 C389,411 385.2,412.7 381.5,414.3 C377.7,416 373.9,417.6 370.2,419.3 C366.4,420.9 362.6,422.5 358.8,424.1 C355,425.7 351.2,427.3 347.4,428.8 C343.6,430.4 339.8,432 336,433.5"/><polygon class="a" points="333.9,429.3 323,440 338.1,437.7"/><text x="343.1" y="443.8">724</text></g>
<g class="edge"><path class="e" d="M475,390.4 C473.4,394.3 471.9,398.3 470.3,402.2 C468.7,406.2 467.2,410.1 465.6,414.1 C464.1,418 462.5,422 461,425.9 C459.5,429.9 457.9,433.9 456.4,437.8 C454.9,441.8 453.4,445.7 451.9,449.7 C450.4,453.7 448.9,457.6 447.4,461.6 C445.9,465.6 444.4,469.6 442.9,473.5 C441.4,477.5 440,481.5 438.5,485.5 C437,489.5 435.6,493.5 434.1,497.4 C432.7,501.4 431.2,505.4 429.8,509.4 C428.4,513.4 426.9,517.4 425.5,521.4"/><polygon class="a" points="421,520 421.3,534.6 430,522.8"/><text x="436.2" y="523.9">467</text></g>
<g class="edge"><path class="e" d="M489,390.4 C489.8,394.5 490.5,398.5 491.2,402.6 C491.8,406.7 492.3,410.7 492.8,414.8 C493.2,418.9 493.6,423 493.9,427.1 C494.2,431.2 494.4,435.3 494.5,439.5 C494.6,443.6 494.7,447.7 494.7,451.8 C494.7,455.9 494.6,460 494.5,464.1 C494.4,468.3 494.2,472.4 493.9,476.5 C493.7,480.6 493.4,484.7 493.1,488.8 C492.7,492.9 492.4,497 491.9,501.1 C491.5,505.1 491,509.2 490.4,513.3 C489.9,517.4 489.2,521.4 488.5,525.5 C487.8,529.6 487,533.6 486.1,537.7 C485.3,541.7 484.3,545.8 483.1,549.8 C482,553.8 480.6,557.7 479,561.4 C477.4,565.2 475.5,568.8 473.4,572.3 C471.2,575.8 468.8,579.1 466.2,582.3 C463.6,585.4 460.8,588.5 457.9,591.3 C454.9,594.2 451.8,597 448.5,599.6 C445.3,602.2 441.9,604.6 438.5,607 C435,609.3 431.5,611.5 428,613.6 C424.4,615.7 420.8,617.6 417.2,619.6 C413.6,621.5 409.9,623.3 406.2,625.2 C402.5,627 398.8,628.7 395.1,630.4 C391.4,632.1 387.6,633.8 383.8,635.3 C380,636.8 376.2,638.3 372.3,639.6 C368.4,641 364.5,642.2 360.5,643.3 C356.6,644.4 352.6,645.3 348.5,646.2 C344.5,647 340.4,647.6 336.3,648.2 C332.1,648.7 328.1,649.4 324,650"/><polygon class="a" points="323.5,645.4 310.7,651.3 324.5,654.6"/><text x="328.2" y="661.1">33</text></g>
<g class="edge"><path class="e" d="M520.2,373 C523.9,374.2 527.8,375.5 531.6,376.7 C535.5,377.9 539.4,379.1 543.3,380.4 C547.2,381.7 551.2,383.1 555.2,384.5 C559.2,385.9 563.1,387.4 567.1,389 C571,390.6 574.9,392.3 578.7,394 C582.6,395.8 586.3,397.7 590,399.8 C593.7,401.8 597.2,404 600.7,406.3 C604.1,408.7 607.4,411.2 610.6,413.8 C613.7,416.5 616.7,419.3 619.5,422.4 C622.3,425.4 624.9,428.6 627.3,432 C629.6,435.4 631.8,438.9 633.7,442.5 C635.7,446.2 637.4,449.9 638.8,453.8 C640.3,457.6 641.4,461.5 642.4,465.5 C643.3,469.5 643.9,473.5 644.2,477.6 C644.6,481.7 644.6,485.7 644.4,489.8 C644.1,493.9 643.6,498 642.9,502.1 C642.1,506.1 641.2,510.2 640,514.2 C638.9,518.2 637.5,522.2 636,526.2 C634.6,530.1 632.9,534 631.2,537.8 C629.4,541.6 627.6,545.4 625.6,549 C623.7,552.7 621.6,556.3 619.5,559.9 C617.3,563.4 615.1,566.9 612.8,570.4 C610.5,573.8 608.1,577.2 605.7,580.5 C603.2,583.8 600.7,587.1 598.1,590.3 C595.6,593.5 592.9,596.7 590.2,599.8 C587.5,602.9 584.8,606 582,609 C579.3,612.1 576.3,615 573.5,618"/><polygon class="a" points="569.9,615.1 563.5,630.3 577.1,620.9"/><text x="582" y="625.6">26</text></g>
<g class="edge"><path class="e" d="M268,486.4 C267.8,490.7 267.6,495.1 267.4,499.5 C267.1,503.8 267,508.2 266.8,512.5 C266.6,516.9 266.4,521.2 266.3,525.6 C266.2,529.9 266,534.3 265.9,538.6 C265.9,543 265.8,547.3 265.7,551.7 C265.7,556.1 265.7,560.4 265.7,564.8 C265.7,569.1 265.8,573.5 265.8,577.8 C265.9,582.2 266,586.5 266.2,590.9 C266.3,595.2 266.5,599.6 266.8,604 C267,608.3 267.3,612.7 267.6,617"/><polygon class="a" points="262.9,617.3 268.4,630.3 272.3,616.7"/><text x="275.7" y="615">29</text></g>
<g class="edge"><path class="e" d="M281.2,630.5 C281.6,626.2 282,621.8 282.3,617.5 C282.6,613.1 282.9,608.8 283.2,604.4 C283.4,600.1 283.6,595.7 283.8,591.4 C283.9,587 284.1,582.7 284.1,578.3 C284.2,574 284.3,569.6 284.3,565.3 C284.3,560.9 284.3,556.6 284.3,552.2 C284.3,547.9 284.2,543.5 284.1,539.2 C284,534.8 283.9,530.4 283.7,526.1 C283.6,521.7 283.4,517.4 283.2,513 C283,508.7 282.8,504.3 282.6,500"/><polygon class="a" points="287.3,500 282.6,486.7 277.9,500"/><text x="274.3" y="509.1">3</text></g>
<g class="edge"><path class="e" d="M301.4,486.4 L363.6,529.8"/><polygon class="a" points="361,533.7 374.9,537.3 366.2,525.9"/><text x="364.5" y="523.9">46</text></g>
<g class="edge"><path class="e" d="M385.5,534.6 L328.3,495.5"/><polygon class="a" points="331.1,491.8 317.5,487.2 325.5,499.2"/><text x="329.3" y="507.4">10</text></g>
<g class="edge"><path class="e" d="M287.7,486.4 C289.7,490 291.9,493.5 293.9,497.1 C296,500.7 298.1,504.3 300.3,507.9 C302.5,511.5 304.7,515 307,518.5 C309.2,522 311.6,525.5 314,528.9 C316.4,532.3 318.8,535.7 321.4,539 C323.9,542.4 326.5,545.6 329.1,548.8 C331.8,552 334.5,555.1 337.4,558.2 C340.2,561.2 343.1,564.2 346.1,567 C349,569.9 352.1,572.7 355.2,575.5 C358.3,578.2 361.5,580.8 364.7,583.4 C368,585.9 371.3,588.4 374.7,590.8 C378.1,593.1 381.6,595.4 385.1,597.7 C388.6,599.9 392.2,602 395.8,604.1 C399.4,606.1 403.1,608.1 406.8,610 C410.5,611.9 414.3,613.7 418.1,615.5 C421.9,617.3 425.7,619 429.6,620.6 C433.4,622.2 437.3,623.8 441.2,625.3 C445.1,626.8 449,628.3 453,629.7 C456.9,631.1 460.8,632.5 464.8,633.8 C468.7,635.1 472.7,636.3 476.6,637.5 C480.6,638.7 484.6,639.9 488.5,641"/><polygon class="a" points="487,645.4 501.5,645.5 490,636.6"/><text x="485.5" y="635.1">8</text></g>
<g class="edge"><path class="e" d="M377,582.6 L321,622"/><polygon class="a" points="318.3,618.2 310.3,629.7 323.7,625.8"/><text x="328.5" y="630.1">7</text></g>
<g class="edge"><path class="e" d="M443.5,582.6 L496,620.5"/><polygon class="a" points="492.7,623.8 505.5,630.2 499.3,617.2"/><text x="497" y="615.6">1</text></g>
</svg></body></html>
